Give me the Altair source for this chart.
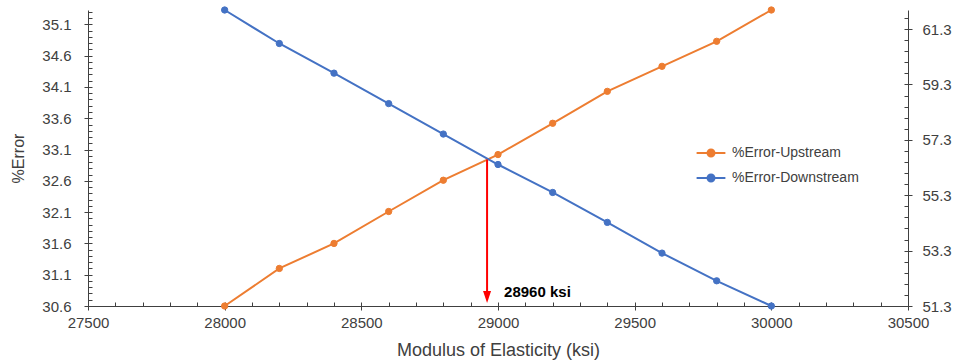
import altair as alt
import pandas as pd

# ---------------- data ----------------
modulus = [28000, 28200, 28400, 28600, 28800, 29000, 29200, 29400, 29600, 29800, 30000]
err_upstream = [30.6, 31.2, 31.6, 32.11, 32.61, 33.02, 33.52, 34.03, 34.43, 34.83, 35.33]
err_downstream = [61.99, 60.78, 59.71, 58.61, 57.51, 56.41, 55.40, 54.32, 53.21, 52.21, 51.3]
series_names = ["%Error-Upstream", "%Error-Downstream"]
series_colors = ["#ED7D31", "#4472C4"]

x_ticks = [27500, 28000, 28500, 29000, 29500, 30000, 30500]
x_minor = list(range(27500, 30501, 100))
y_left_ticks = [30.6, 31.1, 31.6, 32.1, 32.6, 33.1, 33.6, 34.1, 34.6, 35.1]
y_left_minor = [round(30.6 + 0.1 * i, 1) for i in range(48)]
y_right_ticks = [51.3, 53.3, 55.3, 57.3, 59.3, 61.3]
y_right_minor = [round(51.3 + 0.4 * i, 1) for i in range(27)]

x_domain = [27500, 30500]
y_left_domain = [30.6, 35.33]
y_right_domain = [51.3, 61.99]

crossing_x = [28960]
crossing_y = [32.94]
crossing_label = ["28960 ksi"]

FONT = "Liberation Sans"
AX = "#404040"
LAB = "#404040"

up = pd.DataFrame({"modulus": modulus, "error": err_upstream, "series": series_names[0]})
down = pd.DataFrame({"modulus": modulus, "error": err_downstream, "series": series_names[1]})
cross = pd.DataFrame({"modulus": crossing_x, "error": crossing_y,
                      "base": [y_left_domain[0]], "label": crossing_label})

xs = alt.Scale(domain=x_domain, nice=False, zero=False)
yl = alt.Scale(domain=y_left_domain, nice=False, zero=False)
yr = alt.Scale(domain=y_right_domain, nice=False, zero=False)
cs = alt.Scale(domain=series_names, range=series_colors)

common = dict(grid=False, domainColor=AX, tickColor=AX, labelColor=LAB,
              labelFont=FONT, labelFontSize=15, titleFont=FONT, titleColor=LAB,
              titleFontWeight="normal", domainWidth=1, tickWidth=1)

x_main = alt.Axis(orient="bottom", values=x_ticks, format="d", tickSize=4, labelPadding=5,
                  labelFlush=False, title="Modulus of Elasticity (ksi)", titleFontSize=18,
                  titleY=44, titleBaseline="middle", **common)
x_min = alt.Axis(orient="bottom", values=x_minor, offset=-4, tickSize=4, labels=False,
                 domain=False, title=None, grid=False, tickColor=AX, tickWidth=1)
yl_main = alt.Axis(orient="left", values=y_left_ticks, format=".1f", tickSize=4, labelPadding=13,
                   title="%Error", titleFontSize=16, titleX=-70, titleAngle=270,
                   titleBaseline="middle", **common)
yl_min = alt.Axis(orient="left", values=y_left_minor, offset=-4, tickSize=4, labels=False,
                  domain=False, title=None, grid=False, tickColor=AX, tickWidth=1)
yr_main = alt.Axis(orient="right", values=y_right_ticks, format=".1f", tickSize=4, labelPadding=10,
                   title=None, **common)
yr_min = alt.Axis(orient="right", values=y_right_minor, offset=-4, tickSize=4, labels=False,
                  domain=False, title=None, grid=False, tickColor=AX, tickWidth=1)

legend = alt.Legend(title=None, orient="none", legendX=610, legendY=130, padding=0,
                    symbolType="M-1.2,0H1.2M-0.29,0A0.29,0.29,0,1,0,0.29,0A0.29,0.29,0,1,0,-0.29,0Z",
                    symbolSize=576, symbolStrokeWidth=2, labelFont=FONT, labelFontSize=14,
                    labelColor=LAB, labelOffset=8, rowPadding=4, symbolOpacity=1)

up_line = alt.Chart(up).mark_line(color=series_colors[0], strokeWidth=2).encode(
    x=alt.X("modulus:Q", scale=xs, axis=x_main),
    y=alt.Y("error:Q", scale=yl, axis=yl_main),
)
up_pts = alt.Chart(up).mark_point(filled=True, size=40, strokeWidth=1, opacity=1).encode(
    x=alt.X("modulus:Q", scale=xs, axis=x_min),
    y=alt.Y("error:Q", scale=yl, axis=yl_min),
    fill=alt.Fill("series:N", scale=cs, legend=legend),
    stroke=alt.Stroke("series:N", scale=cs, legend=legend),
)
down_line = alt.Chart(down).mark_line(color=series_colors[1], strokeWidth=2).encode(
    x=alt.X("modulus:Q", scale=xs, axis=None),
    y=alt.Y("error:Q", scale=yr, axis=yr_main),
)
down_pts = alt.Chart(down).mark_point(filled=True, size=40, strokeWidth=1, opacity=1).encode(
    x=alt.X("modulus:Q", scale=xs, axis=None),
    y=alt.Y("error:Q", scale=yr, axis=yr_min),
    fill=alt.Fill("series:N", scale=cs, legend=legend),
    stroke=alt.Stroke("series:N", scale=cs, legend=legend),
)
arrow_line = alt.Chart(cross).mark_rule(color="#FF0000", strokeWidth=2, y2Offset=-6).encode(
    x=alt.X("modulus:Q", scale=xs, axis=None),
    y=alt.Y("error:Q", scale=yl, axis=None),
    y2="base:Q",
)
arrow_head = alt.Chart(cross).mark_point(shape="M-0.667,-1L0.667,-1L0,1Z", filled=True, size=144,
                                         color="#FF0000", opacity=1, yOffset=-9).encode(
    x=alt.X("modulus:Q", scale=xs, axis=None),
    y=alt.Y("base:Q", scale=yl, axis=None),
)
arrow_text = alt.Chart(cross).mark_text(font=FONT, fontSize=15, fontWeight="bold", color="#000000",
                                        align="left", baseline="middle", dx=17, dy=-14).encode(
    x=alt.X("modulus:Q", scale=xs, axis=None),
    y=alt.Y("base:Q", scale=yl, axis=None),
    text="label:N",
)

chart = alt.layer(up_line, up_pts, down_line, down_pts, arrow_line, arrow_head, arrow_text).resolve_scale(
    y="independent"
).resolve_axis(x="independent", y="independent").properties(
    width=820, height=296,
    padding={"left": 88, "top": 10, "right": 46, "bottom": 58},
    autosize=alt.AutoSizeParams(type="none"),
    background="white",
).configure_view(stroke=None)

chart.save("out.html", embed_options={"renderer": "svg", "actions": False})
